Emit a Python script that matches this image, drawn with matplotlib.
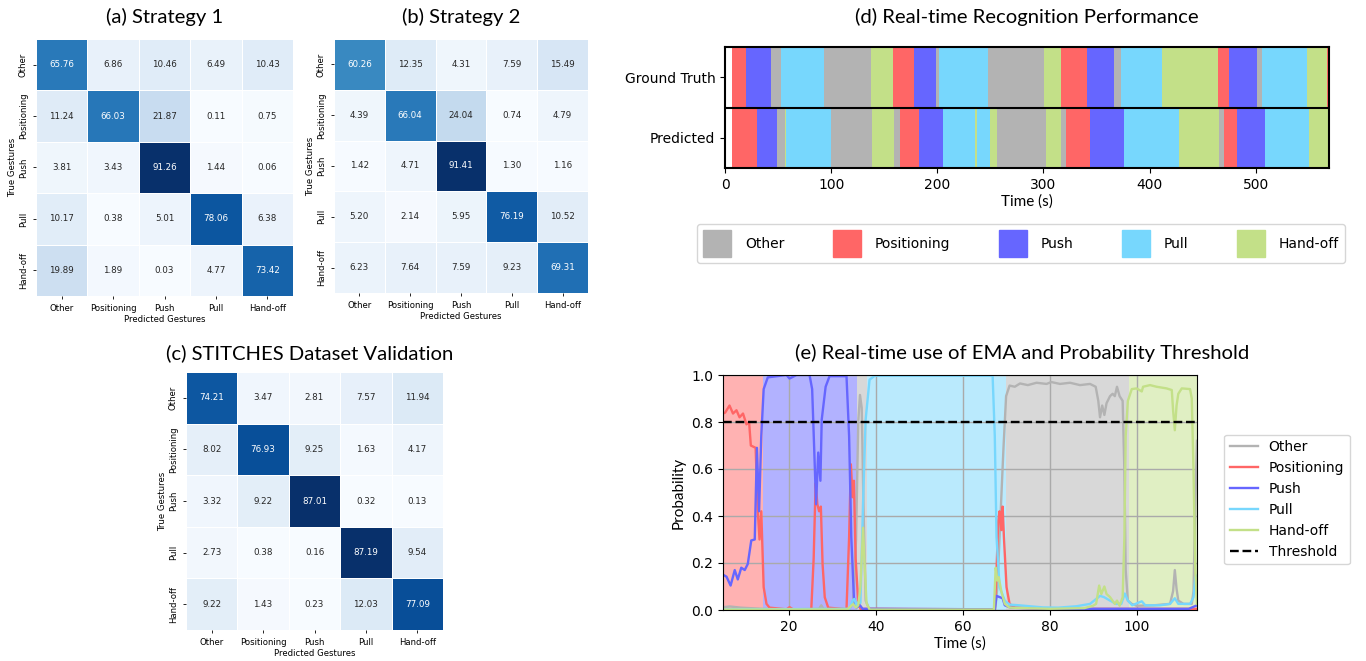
import matplotlib
matplotlib.use("Agg")
import matplotlib.pyplot as plt
from matplotlib.patches import Patch
import numpy as np
import seaborn as sns

gestures = ["Other", "Positioning", "Push", "Pull", "Hand-off"]
colors = ["#b3b3b3", "#ff6666", "#6666ff", "#77d7fd", "#c3e088"]

# confusion matrices (%)
cm_a = [[65.76, 6.86, 10.46, 6.49, 10.43],
        [11.24, 66.03, 21.87, 0.11, 0.75],
        [3.81, 3.43, 91.26, 1.44, 0.06],
        [10.17, 0.38, 5.01, 78.06, 6.38],
        [19.89, 1.89, 0.03, 4.77, 73.42]]
cm_b = [[60.26, 12.35, 4.31, 7.59, 15.49],
        [4.39, 66.04, 24.04, 0.74, 4.79],
        [1.42, 4.71, 91.41, 1.30, 1.16],
        [5.20, 2.14, 5.95, 76.19, 10.52],
        [6.23, 7.64, 7.59, 9.23, 69.31]]
cm_c = [[74.21, 3.47, 2.81, 7.57, 11.94],
        [8.02, 76.93, 9.25, 1.63, 4.17],
        [3.32, 9.22, 87.01, 0.32, 0.13],
        [2.73, 0.38, 0.16, 87.19, 9.54],
        [9.22, 1.43, 0.23, 12.03, 77.09]]

# real-time recognition segments (s)
gt_bounds = [6.6, 19.8, 43, 52.7, 93, 137.5, 158, 178, 198.7, 201.5, 247.6, 300.4,
             316.4, 341, 366, 373, 412, 464, 474.6, 501, 505.6, 548, 567, 569]
gt_labels = ["Positioning", "Push", "Other", "Pull", "Other", "Hand-off", "Positioning",
             "Push", "Other", "Pull", "Other", "Hand-off", "Positioning", "Push", "Other",
             "Pull", "Hand-off", "Positioning", "Push", "Other", "Pull", "Hand-off",
             "Positioning"]
pred_bounds = [6.6, 30, 49, 56.5, 57.4, 100, 138.4, 159, 165, 183, 205, 235.4, 237,
               249.5, 256, 302, 317, 321, 343.7, 375.7, 427.5, 465, 470, 482, 508.5,
               550, 567.8, 569]
pred_labels = ["Positioning", "Push", "Other", "Hand-off", "Pull", "Other", "Hand-off",
               "Other", "Positioning", "Push", "Pull", "Hand-off", "Pull", "Hand-off",
               "Other", "Hand-off", "Other", "Positioning", "Push", "Pull", "Hand-off",
               "Other", "Positioning", "Push", "Pull", "Hand-off", "Other"]

# EMA panel: true-label background spans
span_bounds = [4.9, 14.1, 35.8, 38.0, 69.9, 98.2, 113.9]
span_labels = ["Positioning", "Push", "Other", "Pull", "Other", "Hand-off"]

t_other = [4.9, 6.5, 9, 14, 20, 27.0, 27.5, 28.0, 34.0, 34.8, 35.5, 36.0, 36.4, 36.8, 37.2,
           37.7, 38.5, 67.5, 68.0, 68.5, 69.4, 70.0, 70.8, 72, 73.2, 75, 77.0, 79.3, 80.4,
           82.4, 84.7, 87.0, 89.3, 90.6, 91.2, 91.6, 92.1, 92.6, 93.1, 93.9, 94.5, 95.0,
           95.5, 96.1, 96.8, 97.2, 97.5, 98.0, 98.9, 100, 104, 107.7, 108.4, 108.8, 109.2,
           109.6, 110.8, 112.7, 113.1, 113.5, 113.9]
p_other = [0.012, 0.015, 0.01, 0.005, 0.003, 0.005, 0.02, 0.005, 0.005, 0.03, 0.3, 0.8, 0.915,
           0.86, 0.45, 0.04, 0.005, 0.0, 0.1, 0.31, 0.69, 0.91, 0.955, 0.95, 0.964, 0.957,
           0.967, 0.962, 0.97, 0.962, 0.967, 0.957, 0.962, 0.95, 0.89, 0.82, 0.87, 0.83,
           0.88, 0.91, 0.92, 0.91, 0.95, 0.91, 0.89, 0.59, 0.17, 0.04, 0.026, 0.018, 0.02,
           0.026, 0.08, 0.17, 0.09, 0.04, 0.026, 0.026, 0.08, 0.45, 0.72]

t_pos = [4.9, 5.4, 6.4, 7.2, 8.0, 8.7, 9.5, 10.3, 10.9, 11.3, 12.4, 12.9, 13.3, 13.7, 14.25,
         14.9, 15.6, 19.5, 20.2, 21, 25.2, 25.75, 26.2, 26.6, 27.0, 27.4, 27.8, 28.3, 29.1,
         33.3, 33.9, 34.3, 34.7, 35.0, 35.4, 36.0, 36.5, 67.4, 67.8, 68.2, 68.5, 68.9,
         69.2, 69.5, 70.1, 70.8, 72, 80, 113.9]
p_pos = [0.836, 0.84, 0.87, 0.836, 0.85, 0.82, 0.836, 0.79, 0.80, 0.70, 0.69, 0.42, 0.30,
         0.42, 0.097, 0.026, 0.01, 0.003, 0.012, 0.003, 0.003, 0.22, 0.54, 0.45, 0.42, 0.44,
         0.195, 0.054, 0.01, 0.003, 0.31, 0.62, 0.48, 0.55, 0.22, 0.03, 0.005, 0.003, 0.17,
         0.38, 0.42, 0.34, 0.44, 0.31, 0.097, 0.026, 0.01, 0.005, 0.005]

t_push = [4.9, 5.7, 6.65, 7.6, 8.3, 9.1, 9.9, 10.6, 11.4, 12.2, 12.7, 13.2, 13.7, 14.25, 15.2,
          19.5, 20.2, 21.8, 24.8, 25.4, 25.9, 26.3, 26.8, 27.3, 27.6, 28.5, 29.4, 33.3,
          33.9, 34.4, 35.0, 35.6, 36.4, 37, 67.4, 67.8, 69.2, 69.7, 71, 80, 112, 113.9]
p_push = [0.15, 0.142, 0.104, 0.17, 0.13, 0.18, 0.17, 0.196, 0.296, 0.30, 0.69, 0.42, 0.74,
          0.94, 0.99, 1.0, 0.985, 1.0, 1.0, 0.94, 0.67, 0.45, 0.67, 0.55, 0.81, 0.95, 0.995,
          0.995, 0.74, 0.31, 0.054, 0.01, 0.02, 0.005, 0.003, 0.06, 0.05, 0.02, 0.01, 0.005,
          0.005, 0.02]

t_pull = [4.9, 34.0, 34.7, 35.1, 35.6, 36.0, 36.5, 37.1, 37.7, 38.6, 39.8, 66.9, 67.4, 67.8,
          68.5, 69.7, 70.8, 73, 78.5, 82, 86.2, 89.3, 91.2, 91.6, 92.5, 93.9, 95.3, 96.5,
          97.3, 98.0, 99, 101.2, 102, 105.4, 107.7, 108.8, 109.6, 112.3, 113.1, 113.5, 113.9]
p_pull = [0.003, 0.005, 0.04, 0.047, 0.02, 0.033, 0.03, 0.45, 0.81, 0.98, 0.997, 0.997, 0.74,
          0.31, 0.097, 0.04, 0.023, 0.02, 0.011, 0.01, 0.016, 0.026, 0.054, 0.06, 0.055,
          0.04, 0.026, 0.026, 0.07, 0.04, 0.02, 0.037, 0.02, 0.02, 0.026, 0.05, 0.026,
          0.026, 0.054, 0.14, 0.147]

t_hand = [4.9, 33.5, 34.2, 34.8, 35.5, 36.0, 36.5, 37.1, 37.5, 37.9, 38.6, 67.2, 67.6, 68.0,
          68.3, 68.9, 69.7, 70.8, 80, 88, 90.0, 90.7, 91.4, 91.9, 92.6, 93.1, 93.9, 95.0,
          95.5, 96.1, 96.8, 97.2, 97.5, 98.0, 98.9, 100, 101.2, 101.5, 103.1, 104.6, 106.9,
          108.1, 108.4, 108.8, 109.2, 109.6, 110.4, 112.3, 112.7, 113.1, 113.5, 113.9]
p_hand = [0.002, 0.002, 0.015, 0.025, 0.01, 0.02, 0.1, 0.35, 0.18, 0.03, 0.002, 0.002, 0.18,
          0.125, 0.14, 0.08, 0.026, 0.01, 0.005, 0.008, 0.018, 0.026, 0.104, 0.068, 0.10,
          0.068, 0.055, 0.026, 0.04, 0.018, 0.054, 0.31, 0.74, 0.89, 0.94, 0.943, 0.93, 0.95,
          0.957, 0.95, 0.943, 0.936, 0.85, 0.765, 0.87, 0.92, 0.943, 0.94, 0.9, 0.59, 0.17,
          0.026]

threshold = 0.8

W, H = 1366, 661
fig = plt.figure(figsize=(W / 100, H / 100), dpi=100)


def rect(l, t, w, h):
    return [l / W, 1 - (t + h) / H, w / W, h / H]


title_font = ["Lato", "DejaVu Sans"]
TS = 14.6


def heat(ax, cm):
    sns.heatmap(np.array(cm), annot=True, fmt=".2f", cmap="Blues", cbar=False,
                linewidths=0.6, linecolor="white", xticklabels=gestures,
                yticklabels=gestures, annot_kws={"size": 6.3}, ax=ax)
    ax.tick_params(labelsize=6.1, length=2.5, width=0.6)
    ax.set_yticklabels(gestures, rotation=90, va="center")
    ax.set_xticklabels(gestures, rotation=0)
    ax.set_xlabel("Predicted Gestures", fontsize=6.1, labelpad=1)
    ax.set_ylabel("True Gestures", fontsize=6.1, labelpad=1)


ax_a = fig.add_axes(rect(36, 39, 257, 257))
heat(ax_a, cm_a)
ax_b = fig.add_axes(rect(334, 39, 254, 254))
heat(ax_b, cm_b)
ax_c = fig.add_axes(rect(186, 372, 257, 258))
heat(ax_c, cm_c)

fig.text(165 / W, 1 - 17 / H, "(a) Strategy 1", ha="center", va="center", fontsize=TS, family=title_font)
fig.text(461 / W, 1 - 17 / H, "(b) Strategy 2", ha="center", va="center", fontsize=TS, family=title_font)
fig.text(310 / W, 1 - 353 / H, "(c) STITCHES Dataset Validation", ha="center", va="center",
         fontsize=TS, family=title_font)

# (d) real-time recognition
cmap = dict(zip(gestures, colors))
ax_d = fig.add_axes(rect(725, 47, 604, 121))
for row, bounds, labels in [(1, gt_bounds, gt_labels), (0, pred_bounds, pred_labels)]:
    for i, lab in enumerate(labels):
        ax_d.barh(row, bounds[i + 1] - bounds[i], left=bounds[i], height=1,
                  color=cmap[lab], lw=0)
ax_d.axhline(0.5, color="black", lw=1.5)
ax_d.set_xlim(0, 569)
ax_d.set_ylim(-0.5, 1.5)
ax_d.set_yticks([1, 0])
ax_d.set_yticklabels(["Ground Truth", "Predicted"])
ax_d.set_xticks([0, 100, 200, 300, 400, 500])
ax_d.tick_params(labelsize=10)
for s in ax_d.spines.values():
    s.set_linewidth(1.5)
ax_d.set_xlabel("Time (s)", fontsize=11, family=title_font, labelpad=2)
fig.text(1027 / W, 1 - 17 / H, "(d) Real-time Recognition Performance", ha="center",
         va="center", fontsize=TS, family=title_font)
handles = [Patch(color=c, label=g) for g, c in zip(gestures, colors)]
fig.legend(handles=handles, loc="center", bbox_to_anchor=(1021 / W, 1 - 243.5 / H), ncol=5,
           fontsize=10, handlelength=2.0, handleheight=2.6, handletextpad=1.0,
           columnspacing=3.5, borderpad=0.45)

# (e) EMA + threshold
ax_e = fig.add_axes(rect(723, 375, 474, 235))
for i, lab in enumerate(span_labels):
    ax_e.axvspan(span_bounds[i], span_bounds[i + 1], color=cmap[lab], alpha=0.5, lw=0)
series = [(t_other, p_other), (t_pos, p_pos), (t_push, p_push), (t_pull, p_pull),
          (t_hand, p_hand)]
for (t, p), g, c in zip(series, gestures, colors):
    ax_e.plot(t, p, color=c, lw=1.7, label=g)
ax_e.axhline(threshold, color="black", ls="--", lw=1.7, label="Threshold")
ax_e.grid(True, color="#aaaaaa", lw=1)
ax_e.set_xlim(4.9, 113.9)
ax_e.set_ylim(0, 1)
ax_e.set_xticks([20, 40, 60, 80, 100])
ax_e.tick_params(labelsize=10)
ax_e.set_xlabel("Time (s)", fontsize=11, family=title_font, labelpad=2)
ax_e.set_ylabel("Probability", fontsize=11, family=title_font)
fig.text(1022 / W, 1 - 353 / H, "(e) Real-time use of EMA and Probability Threshold",
         ha="center", va="center", fontsize=TS, family=title_font)
lh, ll = ax_e.get_legend_handles_labels()
fig.legend(lh, ll, loc="center", bbox_to_anchor=(1287 / W, 1 - 499.5 / H), fontsize=10)

fig.savefig("out.png", dpi=100)
